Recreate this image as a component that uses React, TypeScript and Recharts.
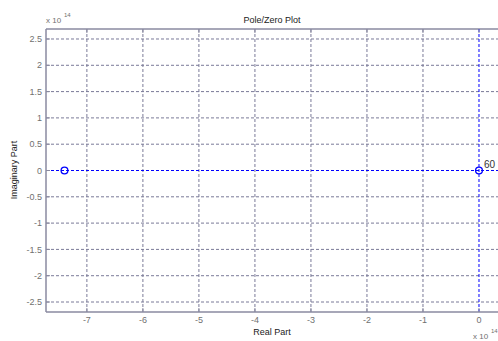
import React from "react";
import {
  ScatterChart,
  Scatter,
  XAxis,
  YAxis,
  CartesianGrid,
  ReferenceLine,
} from "recharts";

// values in units of 1e14
const zeroReal = [-7.4, 0];
const zeroImag = [0, 0];
const zeroCount = [1, 60];

const xTicks = [-7, -6, -5, -4, -3, -2, -1, 0];
const yTicks = [2.5, 2, 1.5, 1, 0.5, 0, -0.5, -1, -1.5, -2, -2.5];
const xDomain = [-7.73, 0.75];
const yDomain = [-2.69, 2.69];

const title = "Pole/Zero Plot";
const xLabel = "Real Part";
const yLabel = "Imaginary Part";
const exponent = "14";

const data = zeroReal.map((r, i) => ({ re: r, im: zeroImag[i], n: zeroCount[i] }));

const TOP = 29;
const AXIS = "#8a8aa0";
const GRID = "#7a7a98";
const TICKTXT = "#707070";
const BLUE = "#0000ff";
const FONT = "Liberation Sans, Arial, sans-serif";

const LeftTick = (p: any) => {
  const { x, y, payload } = p;
  return (
    <g>
      <line x1={x + 4} x2={x + 8} y1={y} y2={y} stroke={AXIS} strokeWidth={1} />
      <text x={x} y={y} dy="0.355em" textAnchor="end" fontSize={9} fontFamily={FONT} fill={TICKTXT}>
        {String(payload.value)}
      </text>
    </g>
  );
};

const BottomTick = (p: any) => {
  const { x, y, payload } = p;
  return (
    <g>
      <line x1={x} x2={x} y1={y - 4} y2={y - 8} stroke={AXIS} strokeWidth={1} />
      <line x1={x} x2={x} y1={TOP} y2={TOP + 4} stroke={AXIS} strokeWidth={1} />
      <text x={x} y={y} dy="0.8em" textAnchor="middle" fontSize={9} fontFamily={FONT} fill={TICKTXT}>
        {String(payload.value)}
      </text>
    </g>
  );
};

const ZeroShape = (p: any) => {
  const { cx, cy, payload } = p;
  return (
    <g>
      <circle cx={cx} cy={cy} r={3.4} fill="none" stroke={BLUE} strokeWidth={1.3} />
      {payload.n > 1 ? (
        <text x={cx + 5} y={cy - 3} fontSize={10} fontFamily={FONT} fill="#333">
          {String(payload.n)}
        </text>
      ) : null}
    </g>
  );
};

export default function App() {
  return (
    <div
      style={{
        position: "absolute",
        left: 0,
        top: 0,
        width: 498,
        height: 341,
        overflow: "hidden",
        background: "#fff",
      }}
    >
      <ScatterChart width={530} height={341} margin={{ top: TOP, right: 9, bottom: 0, left: 0 }}>
        <CartesianGrid
          stroke={GRID}
          strokeDasharray="3 2"
          vertical={false}
          horizontalValues={yTicks}
        />
        {xTicks
          .filter((t) => t !== 0)
          .map((t) => (
            <ReferenceLine key={t} x={t} stroke={GRID} strokeDasharray="3 2" strokeWidth={1} />
          ))}
        <ReferenceLine y={yDomain[1]} stroke={AXIS} strokeWidth={1.5} />
        <XAxis
          type="number"
          dataKey="re"
          domain={xDomain}
          ticks={xTicks}
          allowDataOverflow
          height={29}
          tickSize={0}
          tickMargin={4}
          tickLine={false}
          axisLine={{ stroke: AXIS, strokeWidth: 1.5 }}
          tick={<BottomTick />}
          interval={0}
        />
        <YAxis
          type="number"
          dataKey="im"
          domain={yDomain}
          ticks={yTicks}
          allowDataOverflow
          width={46}
          tickSize={0}
          tickMargin={4}
          tickLine={false}
          axisLine={{ stroke: AXIS, strokeWidth: 1.5 }}
          tick={<LeftTick />}
          interval={0}
        />
        <ReferenceLine y={0} stroke={BLUE} strokeDasharray="3 2" strokeWidth={1} />
        <ReferenceLine x={0} stroke={BLUE} strokeDasharray="3 2" strokeWidth={1} />
        <Scatter data={data} isAnimationActive={false} shape={<ZeroShape />} />
        <text x={272} y={23} textAnchor="middle" fontSize={9} fontFamily={FONT} fill="#222">
          {title}
        </text>
        <text x={272} y={335} textAnchor="middle" fontSize={9} fontFamily={FONT} fill="#222">
          {xLabel}
        </text>
        <text
          x={17}
          y={170}
          textAnchor="middle"
          fontSize={9}
          fontFamily={FONT}
          fill="#222"
          transform="rotate(-90 17 170)"
        >
          {yLabel}
        </text>
        <text x={46} y={23} fontSize={8} fontFamily={FONT} fill={TICKTXT}>
          x 10
        </text>
        <text x={64} y={17} fontSize={6} fontFamily={FONT} fill={TICKTXT}>
          {exponent}
        </text>
        <text x={473} y={339} fontSize={8} fontFamily={FONT} fill={TICKTXT}>
          x 10
        </text>
        <text x={491} y={333} fontSize={6} fontFamily={FONT} fill={TICKTXT}>
          {exponent}
        </text>
      </ScatterChart>
    </div>
  );
}
